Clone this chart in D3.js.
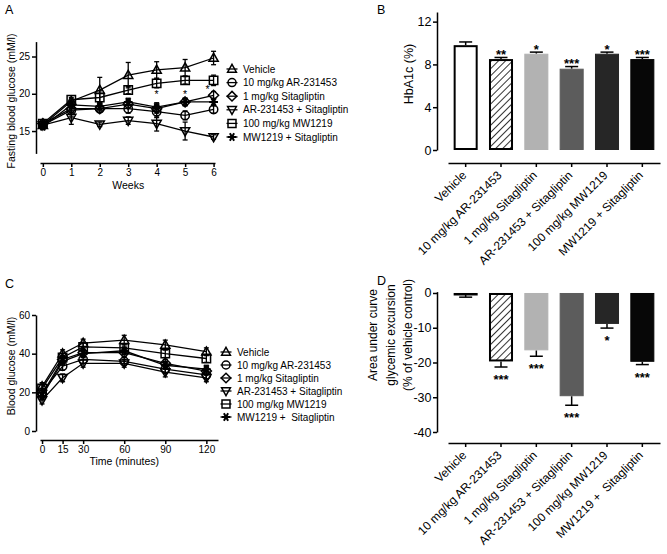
<!DOCTYPE html>
<html><head><meta charset="utf-8">
<script src="https://cdn.jsdelivr.net/npm/d3@7"></script>
<style>
body{margin:0;background:#fff}
svg{display:block}
text{font-family:"Liberation Sans",Arial,sans-serif;white-space:pre}
</style>
</head><body>
<svg id="c" width="667" height="554"></svg>
<script>
// ---------------- DATA ----------------
const groups = ["Vehicle","10 mg/kg AR-231453","1 mg/kg Sitagliptin","AR-231453 + Sitagliptin","100 mg/kg MW1219","MW1219 + Sitagliptin"];
const groupsC = ["Vehicle","10 mg/kg AR-231453","1 mg/kg Sitagliptin","AR-231453 + Sitagliptin","100 mg/kg MW1219","MW1219 +  Sitagliptin"];
const groupsD = ["Vehicle","10 mg/kg AR-231453","1 mg/kg Sitagliptin","AR-231453 + Sitagliptin","100 mg/kg MW1219","MW1219 +  Sitagliptin"];
const symbolTypes = ["triUp","circle","diamond","triDown","square","asterisk"];

// Panel A: fasting blood glucose (mM/l) by week
const weeks = [0,1,2,3,4,5,6];
const weekTicks = [0,1,2,3,4,5,6];
const fbgTicks = [15,20,25];
const fbgMean = [
  [15.8,19.0,20.5,22.5,23.2,23.5,24.8],
  [15.8,17.8,18.0,18.0,17.6,17.1,17.9],
  [16.0,18.0,18.0,18.6,18.0,18.9,19.8],
  [15.8,16.8,15.9,16.4,16.0,15.0,14.2],
  [16.0,19.2,19.5,20.5,21.4,21.8,21.8],
  [15.6,18.5,18.3,18.9,18.2,18.9,18.9]
];
const fbgErr = [
  [0.3,0.3,1.7,1.7,1.1,1.1,0.9],
  [0.3,0.8,0.5,0.6,0.8,0.6,0.5],
  [0.3,0.5,0.5,0.5,0.6,0.5,0.5],
  [0.3,0.9,0.3,0.5,1.0,1.2,0.3],
  [0.3,0.3,0.9,0.5,0.6,0.5,0.7],
  [0.3,0.5,0.5,0.5,0.6,0.5,0.5]
];
const fbgSigWeeks = [4,5,6];
const fbgSigLevel = [20.2,20.2,20.9];
const fbgSigLabels = ["*","*","*"];

// Panel B: HbA1c (%)
const hba1cTicks = [0,4,8,12];
const hba1c = [9.8,8.5,9.0,7.6,9.0,8.5];
const hba1cErr = [0.3,0.15,0.15,0.2,0.15,0.15];
const hba1cSig = ["","**","*","***","*","***"];

// Panel C: OGTT blood glucose (mM/l)
const times = [0,15,30,60,90,120];
const timeTicks = [0,15,30,60,90,120];
const bgTicks = [0,20,40,60];
const ogttMean = [
  [23,40,45.5,47,44.5,41],
  [20,33.5,37,36,32,29],
  [19,37,40.5,40.5,35,31],
  [16,27.5,35,35,30.5,27.5],
  [22,38,43.5,43,40,37.5],
  [18,36,40,41.5,34,32]
];
const ogttErr = [
  [2,2,2,2.5,2.5,2],
  [2,2,2,2,2,2],
  [2,2,2,2,2,2],
  [2,2,2,2,2.5,2],
  [2,2,2,2,2,2],
  [2,2,2,2,2,2]
];

// Panel D: AUC glycemic excursion (% of vehicle control)
const aucTicks = [0,-10,-20,-30,-40];
const auc = [-0.5,-19.7,-16.5,-29.7,-8.9,-19.8];
const aucErr = [0.7,1.6,1.7,2.6,1.2,0.8];
const aucSig = ["","***","***","***","*","***"];

// styles
const barFills = ["#ffffff","url(#hatch)","#b2b2b2","#5c5c5c","#262626","#070707"];
const barStrokes = ["#000","#000","#b2b2b2","#5c5c5c","#262626","#070707"];

// ---------------- DRAW ----------------
const FONT = '"Liberation Sans",Arial,sans-serif';
const svg = d3.select("#c");
const defs = svg.append("defs");
const pat = defs.append("pattern").attr("id","hatch").attr("patternUnits","userSpaceOnUse")
  .attr("width",5).attr("height",5).attr("patternTransform","rotate(45)");
pat.append("rect").attr("width",5).attr("height",5).attr("fill","#fff");
pat.append("line").attr("x1",0).attr("y1",0).attr("x2",0).attr("y2",5).attr("stroke","#000").attr("stroke-width",1.6);

function sym(type, r){
  switch(type){
    case "triUp": return `M0,${-r*1.15}L${r*1.1},${r*0.8}L${-r*1.1},${r*0.8}Z`;
    case "triDown": return `M0,${r*1.15}L${r*1.1},${-r*0.8}L${-r*1.1},${-r*0.8}Z`;
    case "circle": return d3.symbol(d3.symbolCircle, Math.PI*r*r)();
    case "diamond": { const k=r*1.2; return `M0,${-k}L${k},0L0,${k}L${-k},0Z`; }
    case "square": return `M${-r},${-r}H${r}V${r}H${-r}Z`;
    case "asterisk": {
      const a=r*1.05, c=a*0.5, s=a*0.866;
      return `M${-a},0L${a},0M${-c},${-s}L${c},${s}M${-c},${s}L${c},${-s}`;
    }
  }
}

const intFmt = d => String(d);

function styleAxis(g, fs){
  g.attr("font-family",FONT).attr("font-size",fs);
  g.select(".domain").attr("stroke","#000").attr("stroke-width",1.5);
  g.selectAll(".tick line").attr("stroke","#000").attr("stroke-width",1.5);
  g.selectAll(".tick text").attr("fill","#000");
}

function linePanel(opts){
  const {x, y, xs, means, errs, yAxisX, xAxisY, xTicks, yTicks, fs} = opts;
  const gx = svg.append("g").attr("transform",`translate(0,${xAxisY})`)
    .call(d3.axisBottom(x).tickValues(xTicks).tickFormat(intFmt).tickSize(4).tickSizeOuter(0).tickPadding(1.5));
  styleAxis(gx, fs);
  const gy = svg.append("g").attr("transform",`translate(${yAxisX},0)`)
    .call(d3.axisLeft(y).tickValues(yTicks).tickFormat(intFmt).tickSize(4).tickSizeOuter(0).tickPadding(2));
  styleAxis(gy, fs);
  const line = d3.line().x((d,i)=>x(xs[i])).y(d=>y(d));
  means.forEach((m, si)=>{
    const g = svg.append("g");
    g.append("path").attr("d", line(m)).attr("fill","none").attr("stroke","#000").attr("stroke-width",1.3);
    m.forEach((v,i)=>{
      const e = errs[si][i], cx = x(xs[i]);
      g.append("line").attr("x1",cx).attr("x2",cx).attr("y1",y(v-e)).attr("y2",y(v+e)).attr("stroke","#000").attr("stroke-width",1.3);
      [v-e, v+e].forEach(t=>g.append("line").attr("x1",cx-2.5).attr("x2",cx+2.5).attr("y1",y(t)).attr("y2",y(t)).attr("stroke","#000").attr("stroke-width",1.3));
      g.append("path").attr("d", sym(symbolTypes[si], 4.2)).attr("transform",`translate(${cx},${y(v)})`)
        .attr("fill","none").attr("stroke","#000").attr("stroke-width", symbolTypes[si]==="asterisk"?2:1.5);
    });
  });
}

function legend(labels, mx, tx, y0, dy){
  labels.forEach((t,i)=>{
    const yy = y0 + i*dy;
    svg.append("path").attr("d", sym(symbolTypes[i], 4)).attr("transform",`translate(${mx},${yy})`)
      .attr("fill","none").attr("stroke","#000").attr("stroke-width", symbolTypes[i]==="asterisk"?2:1.5);
    svg.append("line").attr("x1",mx-5.5).attr("x2",mx+5.5).attr("y1",yy).attr("y2",yy).attr("stroke","#000").attr("stroke-width",1.3);
    svg.append("text").attr("x",tx).attr("y",yy+3.6).attr("font-size",10).text(t);
  });
}

function panelLabel(t,x,y){ svg.append("text").attr("x",x).attr("y",y).attr("font-size",12.5).text(t); }

// ---- Panel A ----
const xA = d3.scaleLinear([-0.1,6.05],[40,215]);
const yA = d3.scaleLinear([12,27],[153.4,41.6]);
linePanel({x:xA,y:yA,xs:weeks,means:fbgMean,errs:fbgErr,yAxisX:36,xAxisY:163,xTicks:weekTicks,yTicks:fbgTicks,fs:10});
fbgSigWeeks.forEach((w,i)=>{
  svg.append("text").attr("x",xA(w)-(w===6?6:0)).attr("y",yA(fbgSigLevel[i])+6).attr("text-anchor","middle").attr("font-size",10.5).text(fbgSigLabels[i]);
});
svg.append("text").attr("x",xA(3)).attr("y",189).attr("text-anchor","middle").attr("font-size",10.5).text("Weeks");
svg.append("text").attr("transform",`translate(15,101) rotate(-90)`).attr("text-anchor","middle").attr("font-size",10.5).text("Fasting blood glucose (mM/l)");
legend(groups, 232, 243, 69, 13.6);
panelLabel("A",5,14);

// ---- Panel C ----
const xC = d3.scaleLinear([-1.5,128.5],[40,218]);
const yC = d3.scaleLinear([0,60],[431,315]);
linePanel({x:xC,y:yC,xs:times,means:ogttMean,errs:ogttErr,yAxisX:36,xAxisY:440,xTicks:timeTicks,yTicks:bgTicks,fs:10});
svg.append("text").attr("x",xC(60)).attr("y",465).attr("text-anchor","middle").attr("font-size",10.5).text("Time (minutes)");
svg.append("text").attr("transform",`translate(15,366) rotate(-90)`).attr("text-anchor","middle").attr("font-size",10.5).text("Blood glucose (mM/l)");
legend(groupsC, 226, 237, 352, 13);
panelLabel("C",5,288);

// ---- Bar panels ----
function barPanel(opts){
  const {y, vals, errs, sigs, labels, xAxisY, yTicks, neg} = opts;
  const x = d3.scaleBand(labels.map((d,i)=>i),[448,660]).paddingInner(0.32).paddingOuter(0.16);
  const gy = svg.append("g").attr("transform",`translate(437,0)`)
    .call(d3.axisLeft(y).tickValues(yTicks).tickFormat(intFmt).tickSize(4).tickSizeOuter(0).tickPadding(1.5));
  styleAxis(gy, 12.5);
  const gx = svg.append("g").attr("transform",`translate(0,${xAxisY})`)
    .call(d3.axisBottom(x).tickSize(4).tickSizeOuter(0).tickFormat(()=>""));
  styleAxis(gx, 12);
  vals.forEach((v,i)=>{
    const bx = x(i), bw = x.bandwidth(), cx = bx+bw/2;
    const y0 = y(0), y1 = y(v);
    const e = neg ? v - errs[i] : v + errs[i];
    svg.append("line").attr("x1",cx).attr("x2",cx).attr("y1",y1).attr("y2",y(e)).attr("stroke","#000").attr("stroke-width",1.5);
    svg.append("line").attr("x1",cx-6.5).attr("x2",cx+6.5).attr("y1",y(e)).attr("y2",y(e)).attr("stroke","#000").attr("stroke-width",1.5);
    const sw = i<2 ? 2 : 1;
    svg.append("rect").attr("x",bx+sw/2).attr("width",bw-sw)
      .attr("y",Math.min(y0,y1)+sw/2).attr("height",Math.max(Math.abs(y1-y0)-sw,0.5))
      .attr("fill",barFills[i]).attr("stroke",barStrokes[i]).attr("stroke-width",sw);
    if (sigs[i]) {
      svg.append("text").attr("x",cx).attr("y", neg ? y(e)+17 : y(e)+1.5).attr("text-anchor","middle")
        .attr("font-size",13).attr("font-weight","bold").text(sigs[i]);
    }
    svg.append("text").attr("transform",`translate(${cx+1.5},${xAxisY+13}) rotate(-45)`)
      .attr("text-anchor","end").attr("font-size",12).text(labels[i]);
  });
}

const yB = d3.scaleLinear([0,12.9],[150,12]);
barPanel({y:yB, vals:hba1c, errs:hba1cErr, sigs:hba1cSig, labels:groups, xAxisY:163, yTicks:hba1cTicks, neg:false});
svg.append("text").attr("transform",`translate(413,74) rotate(-90)`).attr("text-anchor","middle").attr("font-size",12.5).text("HbA1c (%)");
panelLabel("B",377,14);

const yD = d3.scaleLinear([-40,0.4],[432,291.6]);
barPanel({y:yD, vals:auc, errs:aucErr, sigs:aucSig, labels:groupsD, xAxisY:443, yTicks:aucTicks, neg:true});
const dLab = ["Area under curve","glycemic excursion","(% of vehicle control)"];
dLab.forEach((t,i)=>{
  svg.append("text").attr("transform",`translate(${377+i*17.5},335) rotate(-90)`).attr("text-anchor","middle").attr("font-size",12).text(t);
});
panelLabel("D",377,285);
</script>
</body></html>
